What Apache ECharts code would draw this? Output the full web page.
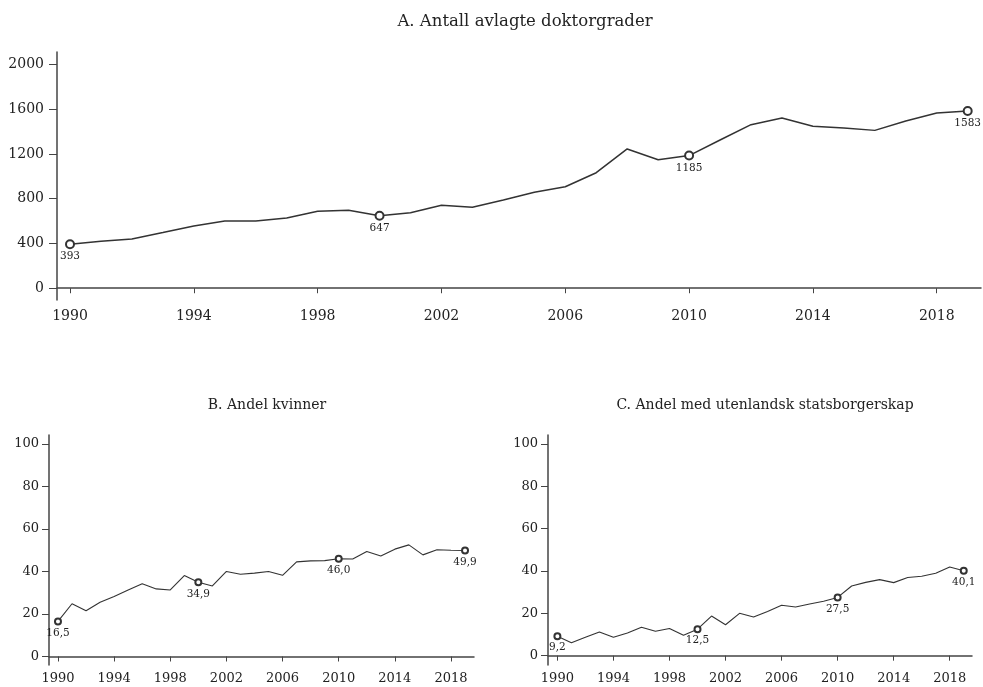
<!DOCTYPE html>
<html>
  <head>
    <meta charset="utf-8" />
    <title>Doktorgrader</title>
    <style type="text/css">
      html,
      body {
        margin: 0;
        padding: 0;
        background: #fff;
      }
    </style>
    <script src="https://cdn.jsdelivr.net/npm/echarts@6/dist/echarts.min.js"></script>
  </head>
  <body>
    <div id="chart" style="width: 983px; height: 687px"></div>
    <script type="text/javascript">
      var years = [];
      for (var y = 1990; y <= 2019; y++) years.push(y);
      var yearTicks = [1990, 1994, 1998, 2002, 2006, 2010, 2014, 2018];

      // A. Antall avlagte doktorgrader
      var doktorgrader = [
        393, 420, 440, 497, 556, 601, 601, 628, 687, 696,
        647, 675, 741, 723, 788, 857, 907, 1032, 1244, 1148,
        1185, 1324, 1461, 1520, 1446, 1431, 1410, 1494, 1565, 1583,
      ];
      // B. Andel kvinner (%)
      var andelKvinner = [
        16.5, 24.8, 21.5, 25.5, 28.2, 31.3, 34.2, 31.8, 31.3, 38.1,
        34.9, 33.2, 40.0, 38.7, 39.2, 40.0, 38.2, 44.5, 45.0, 45.1,
        46.0, 45.9, 49.4, 47.3, 50.5, 52.5, 47.8, 50.2, 50.0, 49.9,
      ];
      // C. Andel med utenlandsk statsborgerskap (%)
      var andelUtenlandsk = [
        9.2, 6.1, 8.7, 11.2, 8.7, 10.7, 13.4, 11.5, 12.8, 9.6,
        12.5, 18.7, 14.6, 20.0, 18.3, 20.9, 23.8, 23.0, 24.4, 25.7,
        27.5, 32.9, 34.6, 35.9, 34.5, 36.9, 37.5, 38.9, 41.9, 40.1,
      ];
      var markedYears = [1990, 2000, 2010, 2019];

      var FONT = "DejaVu Serif";
      var INK = "#333";

      function plain(v) {
        return String(v);
      }

      function buildData(values, fmt) {
        return years.map(function (yr, i) {
          var item = { value: [yr, values[i]] };
          if (markedYears.indexOf(yr) >= 0) {
            item.label = {
              show: true,
              position: "bottom",
              distance: 2,
              formatter: fmt(values[i]),
            };
          } else {
            item.symbol = "none";
          }
          return item;
        });
      }

      function xAxis(idx, min, max, fontSize, margin) {
        return {
          gridIndex: idx,
          type: "value",
          min: min,
          max: max,
          splitLine: { show: false },
          axisLine: { lineStyle: { color: "#444", width: 1.5 } },
          axisTick: {
            customValues: yearTicks,
            length: 5,
            lineStyle: { color: "#444" },
          },
          axisLabel: {
            customValues: yearTicks,
            formatter: plain,
            margin: margin,
            fontFamily: FONT,
            fontSize: fontSize,
            color: "#222",
          },
        };
      }

      function yAxis(idx, min, max, ticks, fontSize, margin, tickLen) {
        return {
          gridIndex: idx,
          type: "value",
          min: min,
          max: max,
          splitLine: { show: false },
          axisLine: { show: true, lineStyle: { color: "#444", width: 1.5 } },
          axisTick: {
            show: true,
            customValues: ticks,
            length: tickLen,
            lineStyle: { color: "#444" },
          },
          axisLabel: {
            customValues: ticks,
            formatter: plain,
            margin: margin,
            fontFamily: FONT,
            fontSize: fontSize,
            color: "#222",
            padding: [0, 0, 8, 0],
          },
        };
      }

      function lineSeries(idx, values, fmt, size, width) {
        return {
          type: "line",
          xAxisIndex: idx,
          yAxisIndex: idx,
          symbol: "emptyCircle",
          symbolSize: size,
          showSymbol: true,
          showAllSymbol: true,
          data: buildData(values, fmt),
          lineStyle: { color: INK, width: width },
          itemStyle: { color: INK, borderColor: INK, borderWidth: width },
          label: { fontFamily: FONT, fontSize: 10.5, color: "#222" },
        };
      }

      var chart = echarts.init(document.getElementById("chart"));
      var pctFmt = function (v) {
        return v.toFixed(1).replace(".", ",");
      };
      var titleStyle = function (size) {
        return { fontFamily: FONT, fontSize: size, fontWeight: "normal", color: "#222" };
      };

      chart.setOption({
        animation: false,
        title: [
          {
            text: "A. Antall avlagte doktorgrader",
            left: 520,
            top: 8,
            textAlign: "center",
            textStyle: titleStyle(16.5),
          },
          {
            text: "B. Andel kvinner",
            left: 262,
            top: 393,
            textAlign: "center",
            textStyle: titleStyle(14),
          },
          {
            text: "C. Andel med utenlandsk statsborgerskap",
            left: 760,
            top: 393,
            textAlign: "center",
            textStyle: titleStyle(14),
          },
        ],
        grid: [
          { left: 57, right: 2, top: 52, bottom: 387 },
          { left: 49, right: 509, top: 435, bottom: 22 },
          { left: 548, right: 11, top: 435, bottom: 22 },
        ],
        xAxis: [
          xAxis(0, 1989.58, 2019.43, 14, 9),
          xAxis(1, 1989.36, 2019.64, 13, 7),
          xAxis(2, 1989.33, 2019.59, 13, 7),
        ],
        yAxis: [
          yAxis(0, -105, 2110, [0, 400, 800, 1200, 1600, 2000], 14, 13, 8),
          yAxis(1, -4, 104.2, [0, 20, 40, 60, 80, 100], 13, 10, 7),
          yAxis(2, -4.4, 104.2, [0, 20, 40, 60, 80, 100], 13, 10, 7),
        ],
        series: [
          lineSeries(0, doktorgrader, plain, 8, 1.5),
          lineSeries(1, andelKvinner, pctFmt, 6, 1.1),
          lineSeries(2, andelUtenlandsk, pctFmt, 6, 1.1),
        ],
      });
    </script>
  </body>
</html>
